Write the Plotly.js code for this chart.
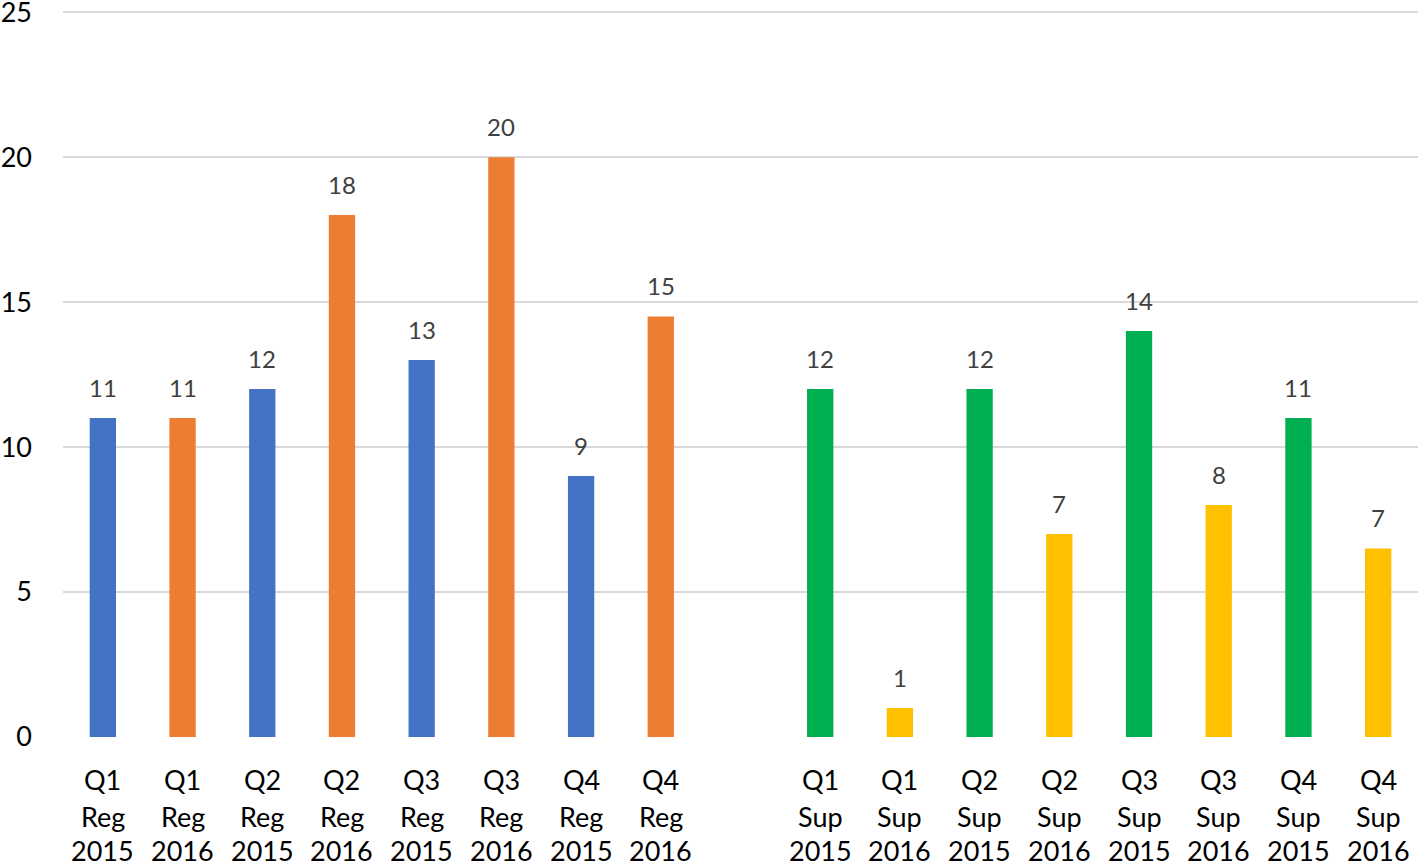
<!DOCTYPE html>
<html>
<head>
<meta charset="utf-8">
<script src="https://cdn.plot.ly/plotly-3.0.1.min.js"></script>
<style>
html,body{margin:0;padding:0;background:#fff;}
#chart{width:1418px;height:868px;}
</style>
</head>
<body>
<div id="chart"></div>
<script>
// Category order (including the blank gap slot between Reg and Sup groups)
var quarters = ["Q1","Q1","Q2","Q2","Q3","Q3","Q4","Q4","","Q1","Q1","Q2","Q2","Q3","Q3","Q4","Q4"];
var kinds    = ["Reg","Reg","Reg","Reg","Reg","Reg","Reg","Reg","","Sup","Sup","Sup","Sup","Sup","Sup","Sup","Sup"];
var years    = ["2015","2016","2015","2016","2015","2016","2015","2016","","2015","2016","2015","2016","2015","2016","2015","2016"];
var categories = quarters.map(function(q,i){ return q ? (q+" "+kinds[i]+" "+years[i]) : " "; });

// Series
var reg2015Cats = ["Q1 Reg 2015","Q2 Reg 2015","Q3 Reg 2015","Q4 Reg 2015"];
var reg2015Vals = [11, 12, 13, 9];
var reg2015Text = ["11","12","13","9"];

var reg2016Cats = ["Q1 Reg 2016","Q2 Reg 2016","Q3 Reg 2016","Q4 Reg 2016"];
var reg2016Vals = [11, 18, 20, 14.5];
var reg2016Text = ["11","18","20","15"];

var sup2015Cats = ["Q1 Sup 2015","Q2 Sup 2015","Q3 Sup 2015","Q4 Sup 2015"];
var sup2015Vals = [12, 12, 14, 11];
var sup2015Text = ["12","12","14","11"];

var sup2016Cats = ["Q1 Sup 2016","Q2 Sup 2016","Q3 Sup 2016","Q4 Sup 2016"];
var sup2016Vals = [1, 7, 8, 6.5];
var sup2016Text = ["1","7","8","7"];

var yTicks = [0, 5, 10, 15, 20, 25];

var series = [
  {x: reg2015Cats, y: reg2015Vals, t: reg2015Text, c: "#4472C4"},
  {x: reg2016Cats, y: reg2016Vals, t: reg2016Text, c: "#ED7D31"},
  {x: sup2015Cats, y: sup2015Vals, t: sup2015Text, c: "#00B050"},
  {x: sup2016Cats, y: sup2016Vals, t: sup2016Text, c: "#FFC000"}
];

var FONT = "Lato, 'Open Sans', sans-serif";

var traces = series.map(function(s){
  return {
    type: "bar",
    x: s.x, y: s.y,
    width: 0.33,
    marker: {color: s.c, line: {width: 0}},
    hoverinfo: "x+y"
  };
});

var annotations = [];
// value labels
series.forEach(function(s){
  s.x.forEach(function(cat, i){
    annotations.push({
      x: cat, y: s.y[i], xref: "x", yref: "y",
      text: s.t[i], showarrow: false,
      yanchor: "middle", yshift: 31,
      font: {family: FONT, size: 24, color: "#404040"}
    });
  });
});
// multi-line category labels
var lineShifts = [-42, -79, -113];
categories.forEach(function(cat, i){
  if (!quarters[i]) return;
  [quarters[i], kinds[i], years[i]].forEach(function(txt, k){
    annotations.push({
      x: cat, y: 0, xref: "x", yref: "paper",
      text: txt, showarrow: false,
      yanchor: "middle", yshift: lineShifts[k],
      font: {family: FONT, size: 27, color: "#000000"}
    });
  });
});

var layout = {
  width: 1418, height: 868,
  margin: {l: 63, r: 0, t: 11, b: 131, pad: 0},
  paper_bgcolor: "#ffffff",
  plot_bgcolor: "#ffffff",
  barmode: "overlay",
  showlegend: false,
  xaxis: {
    type: "category",
    categoryorder: "array",
    categoryarray: categories,
    range: [-0.5, categories.length - 0.5],
    showticklabels: false,
    showgrid: false,
    zeroline: false,
    showline: false,
    ticks: ""
  },
  yaxis: {
    range: [0, 25.04],
    tickmode: "array",
    tickvals: yTicks,
    ticktext: yTicks.map(String),
    ticks: "",
    ticklabelstandoff: 30,
    ticklabeloverflow: "allow",
    showgrid: true,
    gridcolor: "#d9d9d9",
    gridwidth: 2,
    zeroline: false,
    showline: false,
    tickfont: {family: FONT, size: 27, color: "#000000"}
  },
  annotations: annotations
};

Plotly.newPlot("chart", traces, layout, {displayModeBar: false, staticPlot: true});
</script>
</body>
</html>
